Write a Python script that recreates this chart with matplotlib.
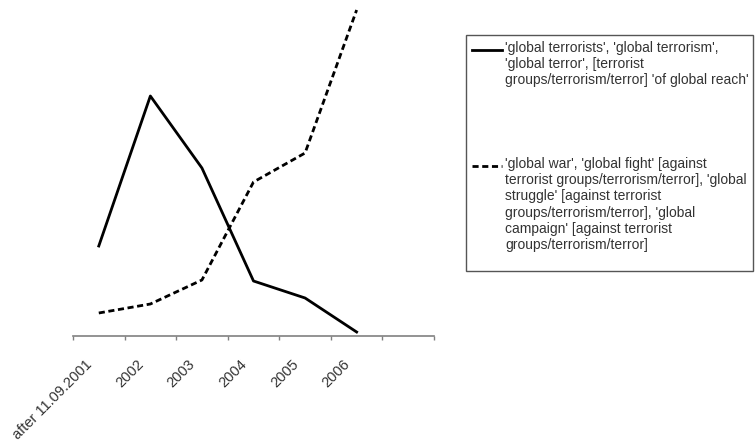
import matplotlib.pyplot as plt
from matplotlib.lines import Line2D
from matplotlib.patches import Rectangle

plt.rcParams['font.family'] = ['Liberation Sans', 'DejaVu Sans']

# categories (last slot on the axis is empty in the original)
categories = ['after 11.09.2001', '2002', '2003', '2004', '2005', '2006', '']
# relative frequency of the two expression groups
terrorist_global = [90, 240, 168, 55, 38, 4]
war_global = [23, 32, 56, 154, 183, 326]

label_terrorist = ("'global terrorists', 'global terrorism',\n"
                   "'global terror', [terrorist\n"
                   "groups/terrorism/terror] 'of global reach'")
label_war = ("'global war', 'global fight' [against\n"
             "terrorist groups/terrorism/terror], 'global\n"
             "struggle' [against terrorist\n"
             "groups/terrorism/terror], 'global\n"
             "campaign' [against terrorist\n"
             "groups/terrorism/terror]")

W, H = 755, 443
LW = 2.0
DASH = [2.2, 1.3]

fig = plt.figure(figsize=(W / 100, H / 100), dpi=100)
ax = fig.add_axes([73 / W, 1 - 336 / H, (434 - 73) / W, (336 - 10) / H])

x = list(range(len(terrorist_global)))
ax.plot(x, terrorist_global, color='black', lw=LW, clip_on=False)
ax.plot(x, war_global, color='black', lw=LW, dashes=DASH, clip_on=False)

ax.set_xlim(-0.5, len(categories) - 0.5)
ax.set_ylim(0, 326)

for s in ['top', 'right', 'left']:
    ax.spines[s].set_visible(False)
ax.spines['bottom'].set_color('#808080')
ax.spines['bottom'].set_linewidth(1.2)
ax.set_yticks([])

# ticks between categories, labels at category centres
ax.set_xticks([i - 0.5 for i in range(len(categories) + 1)])
ax.set_xticklabels([])
ax.tick_params(axis='x', direction='out', length=3, color='#808080', width=1)
for i, c in enumerate(categories):
    ax.text(i - 0.27, -0.065, c, transform=ax.get_xaxis_transform(),
            rotation=45, rotation_mode='anchor', ha='right', va='top',
            fontsize=10.5, color='#333333')

# legend box drawn like the original (handle aligned to first text line)
fig.patches.append(Rectangle((466 / W, 1 - 271 / H), (753 - 466) / W, (271 - 35) / H,
                             transform=fig.transFigure, fill=False,
                             edgecolor='#555555', lw=1))
entries = [(label_terrorist, None, 50), (label_war, DASH, 166)]
for text, dash, yc in entries:
    ln = Line2D([472 / W, 502 / W], [1 - yc / H, 1 - yc / H], transform=fig.transFigure,
                color='black', lw=LW)
    if dash:
        ln.set_dashes(dash)
    fig.lines.append(ln)
    fig.text(505 / W, 1 - (yc - 9) / H, text, ha='left', va='top', fontsize=10,
             color='#333333', linespacing=1.2)

fig.savefig('out.png', dpi=100)
